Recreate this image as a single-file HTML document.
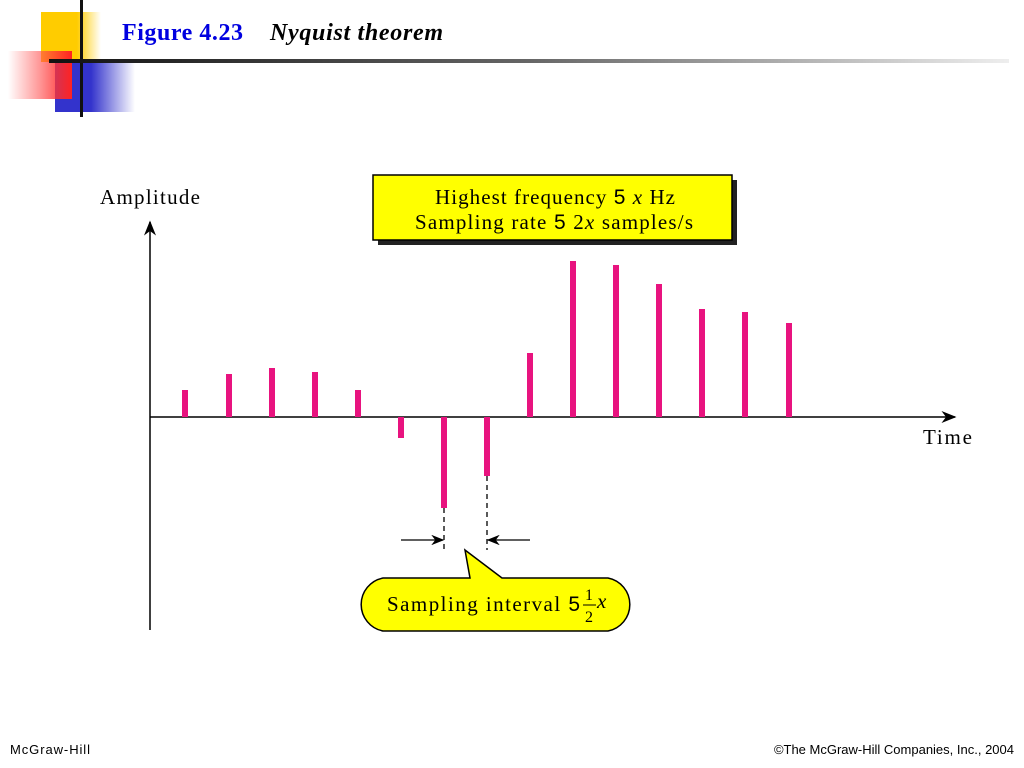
<!DOCTYPE html>
<html><head><style>
body{margin:0;width:1024px;height:768px;background:#fff;overflow:hidden;position:relative;font-family:"Liberation Serif",serif}
.a{position:absolute}
</style></head><body>
<div class="a" style="left:41px;top:12px;width:60px;height:50px;background:linear-gradient(to right,#fc0 0,#fc0 60%,rgba(255,204,0,0) 100%)"></div>
<div class="a" style="left:55px;top:62px;width:80px;height:50px;background:linear-gradient(to right,#33c 0,#33c 45%,rgba(51,51,204,0) 100%)"></div>
<div class="a" style="left:8px;top:51px;width:64px;height:48px;background:linear-gradient(to left,#f22 0,rgba(255,80,80,0.6) 50%,rgba(255,255,255,0) 100%)"></div>
<div class="a" style="left:80px;top:0;width:3px;height:117px;background:#111"></div>
<div class="a" style="left:49px;top:59px;width:960px;height:4px;background:linear-gradient(to right,#111,#666 50%,#eee)"></div>
<svg class="a" style="left:0;top:0" width="1024" height="768">
<defs><marker id="ar" markerWidth="10" markerHeight="8" refX="9" refY="4" orient="auto"><path d="M0,0 L10,4 L0,8 L3,4z" fill="#000"/></marker></defs>
<text x="122" y="40" font-size="24" font-weight="bold" fill="#0000e0" textLength="121" font-family="Liberation Serif">Figure 4.23</text>
<text x="270" y="40" font-size="24" font-weight="bold" font-style="italic" textLength="173" font-family="Liberation Serif">Nyquist theorem</text>
<line x1="150" y1="630" x2="150" y2="222" stroke="#000" stroke-width="1.5" marker-end="url(#ar)"/>
<line x1="150" y1="417" x2="955" y2="417" stroke="#000" stroke-width="1.5" marker-end="url(#ar)"/>
<g fill="#e8137f">
<rect x="182" y="390" width="6" height="27"/>
<rect x="226" y="374" width="6" height="43"/>
<rect x="269" y="368" width="6" height="49"/>
<rect x="312" y="372" width="6" height="45"/>
<rect x="355" y="390" width="6" height="27"/>
<rect x="398" y="417" width="6" height="21"/>
<rect x="441" y="417" width="6" height="91"/>
<rect x="484" y="417" width="6" height="59"/>
<rect x="527" y="353" width="6" height="64"/>
<rect x="570" y="261" width="6" height="156"/>
<rect x="613" y="265" width="6" height="152"/>
<rect x="656" y="284" width="6" height="133"/>
<rect x="699" y="309" width="6" height="108"/>
<rect x="742" y="312" width="6" height="105"/>
<rect x="786" y="323" width="6" height="94"/>
</g>
<line x1="444" y1="508" x2="444" y2="550" stroke="#000" stroke-dasharray="5,4" stroke-width="1.3"/>
<line x1="487" y1="476" x2="487" y2="550" stroke="#000" stroke-dasharray="5,4" stroke-width="1.3"/>
<line x1="401" y1="540" x2="443" y2="540" stroke="#000" stroke-width="1.3" marker-end="url(#ar)"/>
<line x1="530" y1="540" x2="488" y2="540" stroke="#000" stroke-width="1.3" marker-end="url(#ar)"/>
<rect x="378" y="180" width="359" height="65" fill="#222"/>
<rect x="373" y="175" width="359" height="65" fill="#ff0" stroke="#000" stroke-width="1.5"/>
<text x="435" y="204" font-size="21" textLength="240" font-family="Liberation Serif">Highest frequency <tspan font-family="Liberation Sans">5</tspan> <tspan font-style="italic">x</tspan> Hz</text>
<text x="415" y="229" font-size="21" textLength="278" font-family="Liberation Serif">Sampling rate <tspan font-family="Liberation Sans">5</tspan> 2<tspan font-style="italic">x</tspan> samples/s</text>
<path d="M383,578 L470,578 L465,550 L502,578 L608,578 A27,27 0 0 1 608,631 L383,631 A27,27 0 0 1 383,578 Z" fill="#ff0" stroke="#000" stroke-width="1.5"/>
<text x="387" y="611" font-size="21" textLength="193" font-family="Liberation Serif">Sampling interval <tspan font-family="Liberation Sans">5</tspan></text>
<text x="585" y="600" font-size="16" font-family="Liberation Serif">1</text>
<line x1="583" y1="605" x2="596" y2="605" stroke="#000" stroke-width="1"/>
<text x="585" y="622" font-size="16" font-family="Liberation Serif">2</text>
<text x="597" y="608" font-size="21" font-style="italic" font-family="Liberation Serif">x</text>
<text x="100" y="204" font-size="21" textLength="100" font-family="Liberation Serif">Amplitude</text>
<text x="923" y="444" font-size="21" textLength="49" font-family="Liberation Serif">Time</text>
<text x="10" y="754" font-size="13" font-family="Liberation Sans" textLength="80">McGraw-Hill</text>
<text x="1014" y="754" font-size="13" text-anchor="end" font-family="Liberation Sans">©The McGraw-Hill Companies, Inc., 2004</text>
</svg>
</body></html>
